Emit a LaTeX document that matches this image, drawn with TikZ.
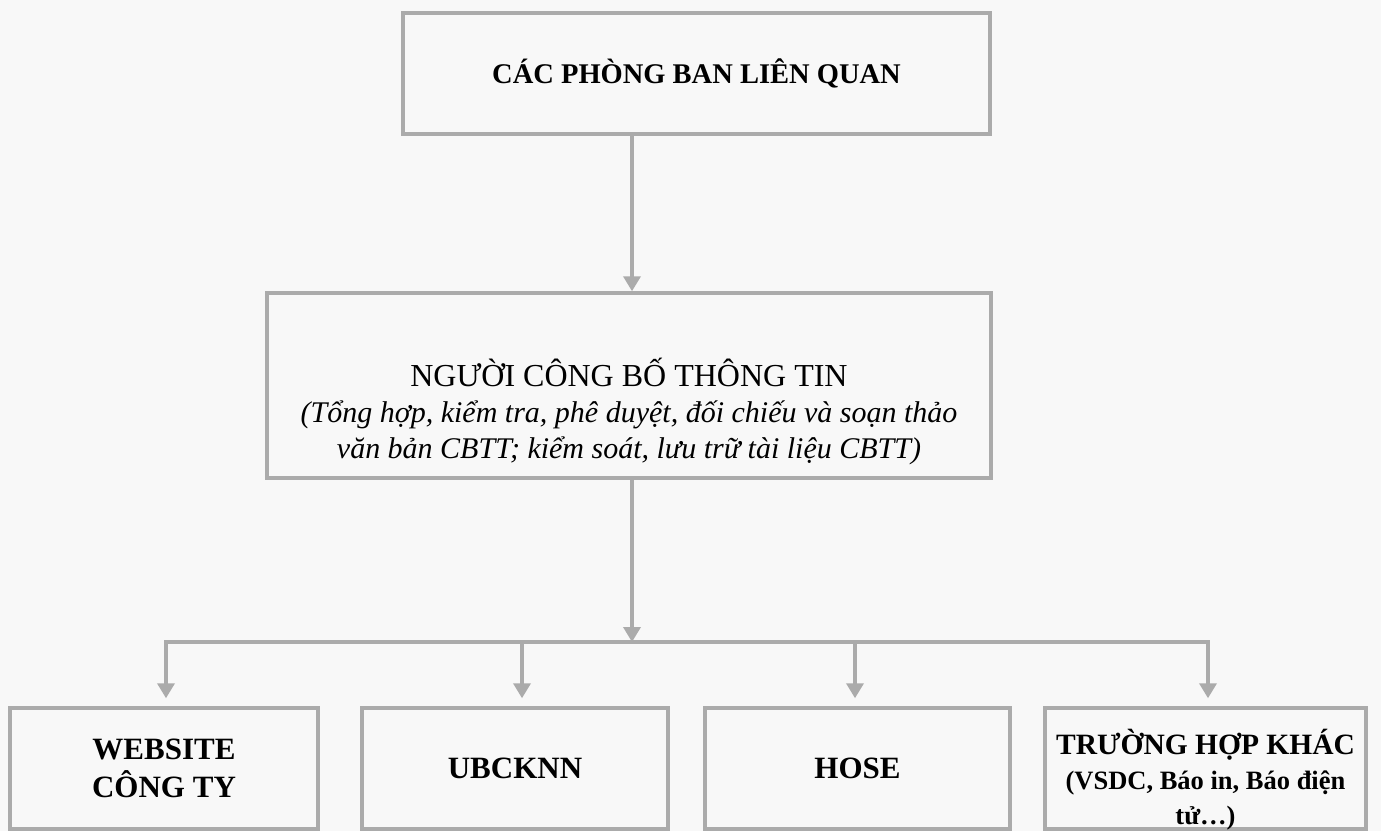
\documentclass[tikz,border=0pt]{standalone}
\usepackage{fontspec}
\setmainfont{Liberation Serif}
\usetikzlibrary{arrows.meta}
\definecolor{frame}{HTML}{ABABAB}
\definecolor{paper}{HTML}{F8F8F8}
\begin{document}
\begin{tikzpicture}[x=1pt,y=-1pt,
  box/.style={draw=frame, line width=3.5pt, fill=paper, inner sep=0pt, align=center},
  label/.style={align=center, inner sep=0pt},
  link/.style={draw=frame, line width=3.5pt},
  arr/.style={link, -{Triangle[width=17pt,length=15pt]}}]
\fill[paper] (0,0) rectangle (1381,831);
\useasboundingbox (0,0) rectangle (1381,831);
\node[box, minimum width=587pt, minimum height=121pt, font=\fontsize{28.5}{34}\selectfont\bfseries] (top) at (696.5,73.5) {CÁC PHÒNG BAN LIÊN QUAN};
\node[box, minimum width=724pt, minimum height=185pt] (mid) at (629,385.5) {};
\node[label, font=\fontsize{30}{36}\selectfont] (midtext) at ([yshift=-26pt]mid.center)
  {{\fontsize{32}{36}\selectfont NGƯỜI CÔNG BỐ THÔNG TIN}\\
   \textit{(Tổng hợp, kiểm tra, phê duyệt, đối chiếu và soạn thảo}\\
   \textit{văn bản CBTT; kiểm soát, lưu trữ tài liệu CBTT)}};
\node[box, minimum width=308pt, minimum height=121pt, font=\fontsize{31}{38}\selectfont\bfseries] (b1) at (164,768.5) {WEBSITE\\CÔNG TY};
\node[box, minimum width=306pt, minimum height=121pt, font=\fontsize{31}{37}\selectfont\bfseries] (b2) at (515,768.5) {UBCKNN};
\node[box, minimum width=305pt, minimum height=121pt, font=\fontsize{31}{37}\selectfont\bfseries] (b3) at (857.5,768.5) {HOSE};
\node[box, minimum width=321pt, minimum height=121pt] (b4) at (1205.5,768.5) {};
\node[label, font=\fontsize{26.5}{35}\selectfont\bfseries] (b4text) at ([yshift=-11pt]b4.center)
  {{\fontsize{29.5}{35}\selectfont TRƯỜNG HỢP KHÁC}\\(VSDC, Báo in, Báo điện\\tử…)};
\coordinate (cx) at (632,0);
\coordinate (bar) at (632,642);
\coordinate (k1) at (166,642);
\coordinate (k2) at (522,642);
\coordinate (k3) at (855,642);
\coordinate (k4) at (1208,642);
\draw[arr] (top.south -| cx) -- (mid.north -| cx);
\draw[arr] (mid.south -| cx) -- (bar);
\draw[link, line cap=rect] (k1) -- (k4);
\draw[arr, shorten >=8pt] (k1) -- (b1.north -| k1);
\draw[arr, shorten >=8pt] (k2) -- (b2.north -| k2);
\draw[arr, shorten >=8pt] (k3) -- (b3.north -| k3);
\draw[arr, shorten >=8pt] (k4) -- (b4.north -| k4);
\end{tikzpicture}
\end{document}
